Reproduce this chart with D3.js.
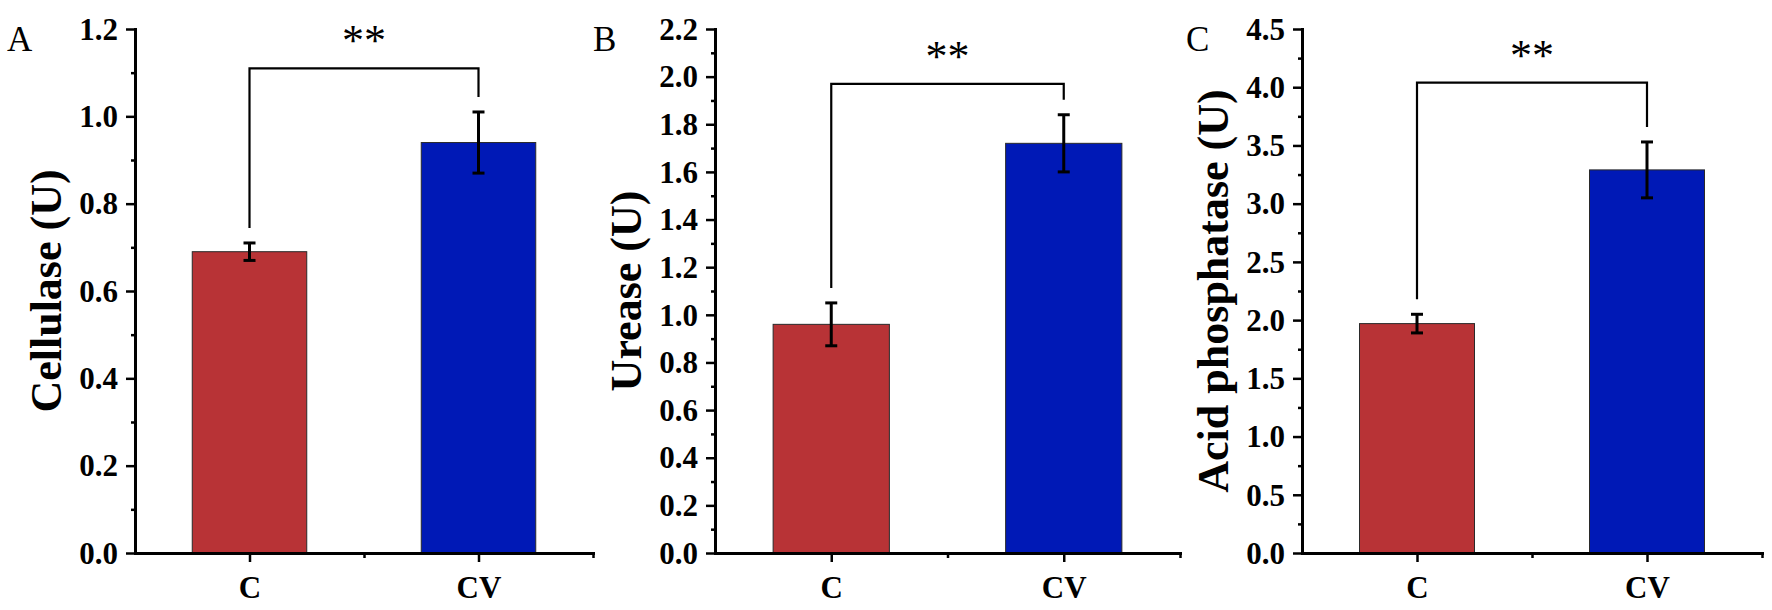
<!DOCTYPE html>
<html>
<head>
<meta charset="utf-8">
<script src="https://cdn.jsdelivr.net/npm/d3@7"></script>
<style>
  html, body { margin: 0; padding: 0; background: #fff; }
  svg { display: block; }
  text { font-family: "Liberation Serif", "Times New Roman", serif; fill: #000; }
</style>
</head>
<body>
<svg id="chart" width="1772" height="610"></svg>
<script>
// ---- data ----
const categories = ["C", "CV"];
const panelLetters = ["A", "B", "C"];
const yTitles = ["Cellulase (U)", "Urease (U)", "Acid phosphatase (U)"];
const cellulaseMean = [0.69, 0.94];
const cellulaseErr  = [0.02, 0.07];
const ureaseMean    = [0.96, 1.72];
const ureaseErr     = [0.09, 0.12];
const acidMean      = [1.97, 3.29];
const acidErr       = [0.08, 0.24];
const yMaxes  = [1.2, 2.2, 4.5];
const ySteps  = [0.2, 0.2, 0.5];
const bracketLevels = [1.11, 1.97, 4.04];
const sigLabels = ["**", "**", "**"];
const barColors = ["#B83336", "#0019B6"];

const means = [cellulaseMean, ureaseMean, acidMean];
const errs  = [cellulaseErr, ureaseErr, acidErr];

// ---- layout ----
const axisLeft  = [135, 715, 1302];
const axisRight = [593, 1180, 1762];
const letterX   = [7, 593, 1186];
const plotTop = 29, plotBottom = 553;
const FONT = '"Liberation Serif", "Times New Roman", serif';

const svg = d3.select("#chart");

for (let p = 0; p < 3; p++) {
  const g = svg.append("g");
  const x = d3.scaleLinear().domain([0.5, 2.5]).range([axisLeft[p], axisRight[p]]);
  const y = d3.scaleLinear().domain([0, yMaxes[p]]).range([plotBottom, plotTop]);
  const step = ySteps[p];
  const nMaj = Math.round(yMaxes[p] / step);
  const majorTicks = d3.range(nMaj + 1).map(i => +(i * step).toFixed(3));
  const minorTicks = d3.range(nMaj).map(i => +((i + 0.5) * step).toFixed(3));
  const unitW = x(2) - x(1);
  const barW = unitW * 0.5;

  const data = categories.map((c, i) => ({ cat: c, pos: i + 1, mean: means[p][i], err: errs[p][i], color: barColors[i] }));

  // bars
  g.selectAll("rect.bar").data(data).enter().append("rect")
    .attr("class", "bar")
    .attr("x", d => x(d.pos) - barW / 2)
    .attr("width", barW)
    .attr("y", d => y(d.mean))
    .attr("height", d => y(0) - y(d.mean))
    .attr("fill", d => d.color)
    .attr("stroke", "#2a2a2a")
    .attr("stroke-width", 1);

  // error bars
  const eb = g.selectAll("g.err").data(data).enter().append("g").attr("class", "err")
    .attr("stroke", "#000").attr("stroke-width", 3);
  eb.append("line")
    .attr("x1", d => x(d.pos)).attr("x2", d => x(d.pos))
    .attr("y1", d => y(d.mean + d.err)).attr("y2", d => y(d.mean - d.err));
  eb.append("line")
    .attr("x1", d => x(d.pos) - 6).attr("x2", d => x(d.pos) + 6)
    .attr("y1", d => y(d.mean + d.err)).attr("y2", d => y(d.mean + d.err));
  eb.append("line")
    .attr("x1", d => x(d.pos) - 6).attr("x2", d => x(d.pos) + 6)
    .attr("y1", d => y(d.mean - d.err)).attr("y2", d => y(d.mean - d.err));

  // significance bracket
  const by = y(bracketLevels[p]);
  const gap = 15;
  const path = d3.path();
  path.moveTo(x(data[0].pos), y(data[0].mean + data[0].err) - gap);
  path.lineTo(x(data[0].pos), by);
  path.lineTo(x(data[1].pos), by);
  path.lineTo(x(data[1].pos), y(data[1].mean + data[1].err) - gap);
  g.append("path").attr("d", path.toString())
    .attr("fill", "none").attr("stroke", "#000").attr("stroke-width", 2.2);
  g.append("text")
    .attr("x", (x(data[0].pos) + x(data[1].pos)) / 2)
    .attr("y", by - 13)
    .attr("text-anchor", "middle")
    .style("font-family", FONT)
    .style("font-size", "44px")
    .text(sigLabels[p]);

  // y axis minor
  g.append("g")
    .attr("transform", `translate(${axisLeft[p]},0)`)
    .call(d3.axisLeft(y).tickValues(minorTicks).tickSize(4).tickFormat(""))
    .call(a => a.select(".domain").remove())
    .call(a => a.selectAll("line").attr("stroke-width", 2.5));
  // y axis major
  const ya = g.append("g")
    .attr("transform", `translate(${axisLeft[p]},0)`)
    .call(d3.axisLeft(y).tickValues(majorTicks).tickSize(9).tickSizeOuter(0).tickPadding(8).tickFormat(d3.format(".1f")));
  ya.attr("font-family", FONT);
  ya.select(".domain").attr("stroke-width", 3).attr("stroke-linecap", "square");
  ya.selectAll("line").attr("stroke-width", 2.5);
  ya.selectAll("text").style("font-family", FONT).style("font-size", "31px").style("font-weight", "bold").attr("dy", "0.33em");

  // x axis minor
  g.append("g")
    .attr("transform", `translate(0,${plotBottom})`)
    .call(d3.axisBottom(x).tickValues([1.5, 2.5]).tickSize(5).tickFormat(""))
    .call(a => a.select(".domain").remove())
    .call(a => a.selectAll("line").attr("stroke-width", 2.5));
  // x axis major
  const xa = g.append("g")
    .attr("transform", `translate(0,${plotBottom})`)
    .call(d3.axisBottom(x).tickValues([1, 2]).tickSize(9).tickSizeOuter(0).tickFormat(d => categories[d - 1]));
  xa.attr("font-family", FONT);
  xa.select(".domain").attr("stroke-width", 3).attr("stroke-linecap", "square");
  xa.selectAll("line").attr("stroke-width", 2.5);
  xa.selectAll("text").style("font-family", FONT).style("font-size", "31px").style("font-weight", "bold")
    .attr("y", 45).attr("dy", 0);

  // y title
  g.append("text")
    .attr("transform", `translate(${axisLeft[p] - 74},${(plotTop + plotBottom) / 2}) rotate(-90)`)
    .attr("text-anchor", "middle")
    .style("font-family", FONT)
    .style("font-size", "44px")
    .style("font-weight", "bold")
    .text(yTitles[p]);

  // panel letter
  g.append("text")
    .attr("x", letterX[p]).attr("y", 51)
    .style("font-family", FONT)
    .style("font-size", "35px")
    .text(panelLetters[p]);
}
</script>
</body>
</html>
